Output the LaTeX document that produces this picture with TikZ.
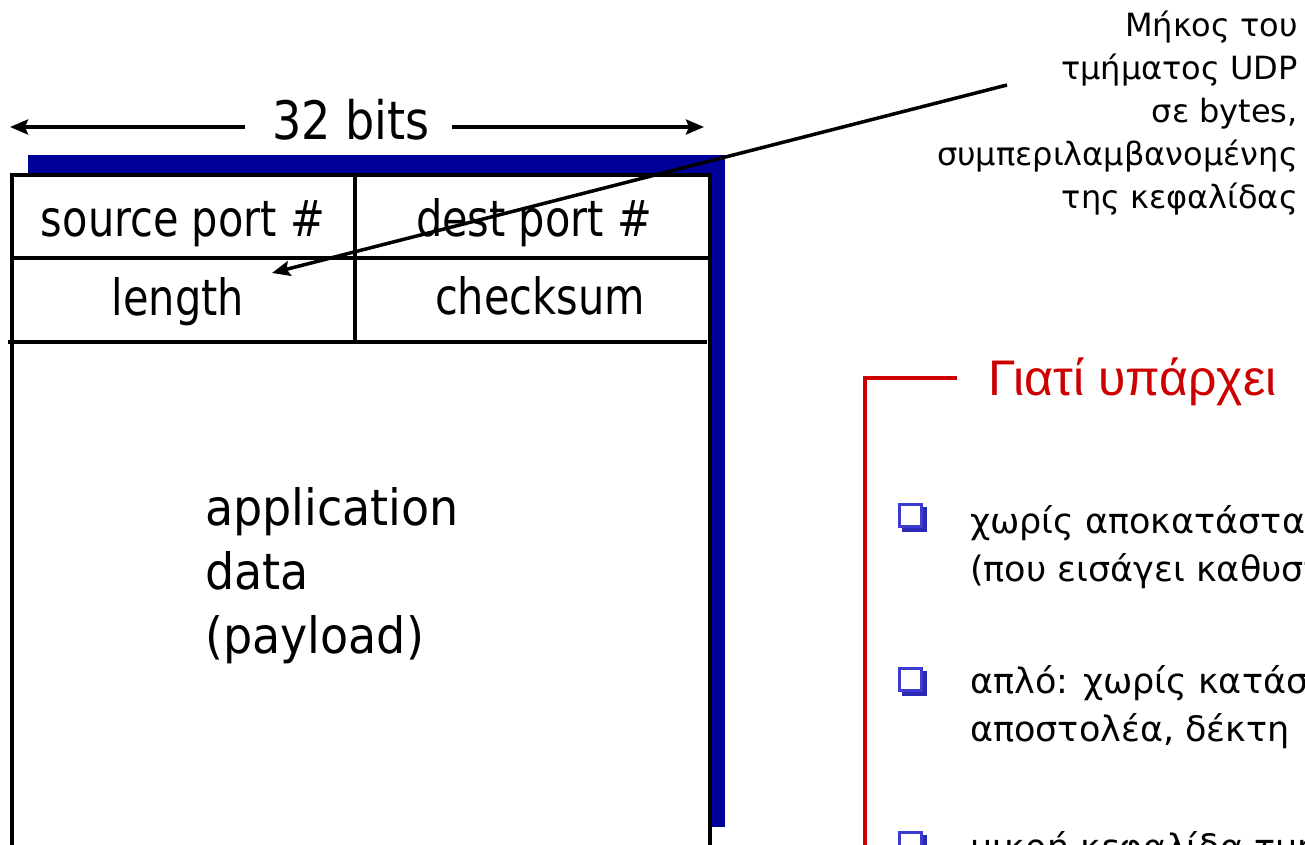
\documentclass[tikz,border=0pt]{standalone}
\usepackage{fontspec}
\setmainfont{DejaVu Sans}
\newfontfamily\cellfont[FakeStretch=0.83]{DejaVu Sans}
\newfontfamily\bitsfont[FakeStretch=0.87]{DejaVu Sans}
\newfontfamily\datafont[FakeStretch=0.92]{DejaVu Sans}
\newfontfamily\comicfont{DejaVu Sans}
\newfontfamily\titlefont{Liberation Sans}
\usetikzlibrary{arrows.meta}
\definecolor{segblue}{HTML}{000099}
\definecolor{titlered}{HTML}{CC0000}
\definecolor{bulletblue}{HTML}{3C3CD2}
\definecolor{bulletdark}{HTML}{2A2AB4}
\tikzset{
  boxline/.style={line width=4pt, black},
  celltext/.style={font=\cellfont\fontsize{50}{60}\selectfont, inner sep=0pt, anchor=base},
  pointer/.style={line width=3.5pt, -{Stealth[length=18pt,width=15pt,inset=3pt]}},
  annot/.style={font=\comicfont\fontsize{32}{43}\selectfont, align=right, inner sep=0pt},
  bullettext/.style={font=\comicfont\fontsize{35}{48}\selectfont, align=left, inner sep=0pt, anchor=north west},
  bulletbox/.style={draw=bulletblue, line width=3pt, fill=white, minimum size=22pt, inner sep=0pt},
  redline/.style={line width=3.5pt, titlered}
}
\begin{document}
\begin{tikzpicture}[x=1pt,y=-1pt]
\useasboundingbox (0,0) rectangle (1305,845);
\clip (0,0) rectangle (1305,845);
% blue shadow
\fill[segblue] (28,155) rectangle (725,173);
\fill[segblue] (710,155) rectangle (725,827);
% segment box
\draw[boxline] (12,850) -- (12,175) -- (710,175) -- (710,850);
\draw[boxline] (12,258) -- (710,258);
\draw[boxline] (8,342) -- (707,342);
\draw[boxline] (355,175) -- (355,342);
% cell texts
\node[celltext] (src) at (183,236) {source port \#};
\node[celltext] (dst) at (534,236) {dest port \#};
\node[celltext] (len) at (178,315) {length};
\node[celltext] (chk) at (540,314) {checksum};
\node[font=\datafont\fontsize{50}{64}\selectfont, align=left, inner sep=0pt, anchor=north west] (data) at (205,487) {application\\data\\(payload)};
% 32 bits
\node[font=\bitsfont\fontsize{53}{60}\selectfont, inner sep=0pt, anchor=base] (bits) at (351,140) {32 bits};
\coordinate (bitsL) at (10,127);
\coordinate (bitsR) at (704,127);
\draw[pointer] ([xshift=-27pt]bits.west |- bitsL) -- (bitsL);
\draw[pointer] ([xshift=22pt]bits.east |- bitsR) -- (bitsR);
% annotation
\node[annot, anchor=north east] (ann) at (1298,11) {Μήκος του\\τμήματος UDP\\σε bytes,\\συμπεριλαμβανομένης\\της κεφαλίδας};
\coordinate (annstart) at (1007,85);
\coordinate (lenptr) at (272,273);
\draw[pointer] (annstart) -- (lenptr);
% red bracket and title
\node[font=\titlefont\fontsize{50}{60}\selectfont, text=titlered, inner sep=0pt, anchor=base west] (title) at (988,395) {Γιατί υπάρχει};
\draw[redline] (957,378) -- (865,378) -- (865,850);
% bullets
\fill[bulletdark] (902,507) rectangle (927,532);
\node[bulletbox] (b1) at (910.5,515.5) {};
\node[bullettext] (t1) at (970,505) {χωρίς αποκατάσταση\\(που εισάγει καθυστέρηση)};
\fill[bulletdark] (902,671) rectangle (927,696);
\node[bulletbox] (b2) at (910.5,679.5) {};
\node[bullettext] (t2) at (970,665) {απλό: χωρίς κατάσταση\\αποστολέα, δέκτη};
\fill[bulletdark] (902,835) rectangle (927,860);
\node[bulletbox] (b3) at (910.5,843.5) {};
\node[bullettext] (t3) at (970,831) {μικρή κεφαλίδα τμήματος};
\end{tikzpicture}
\end{document}
